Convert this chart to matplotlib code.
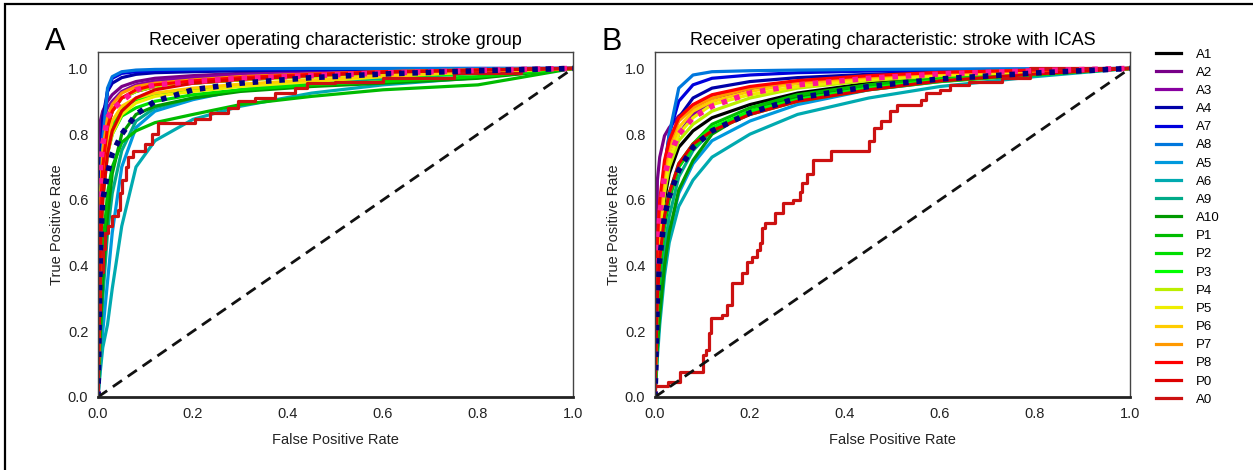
import matplotlib
matplotlib.use("Agg")
import matplotlib.pyplot as plt
from matplotlib.lines import Line2D
from matplotlib.patches import Rectangle
import numpy as np

plt.rcParams['font.family'] = ['Liberation Sans', 'DejaVu Sans']

# ---------------- data ----------------
labels = ["A1", "A2", "A3", "A4", "A7", "A8", "A5", "A6", "A9", "A10",
          "P1", "P2", "P3", "P4", "P5", "P6", "P7", "P8", "P0", "A0"]

colors = ["#000000", "#780088", "#8800a0", "#0000a8", "#0000dd", "#0077dd",
          "#0099dd", "#00aab0", "#00aa88", "#009900", "#00bb00", "#00dd00",
          "#00ff00", "#bbee00", "#eeee00", "#ffcc00", "#ff9900", "#ff0000",
          "#dd0000", "#cc1111"]

fpr_grid = [0, 0.005, 0.01, 0.02, 0.03, 0.05, 0.08, 0.12, 0.2, 0.3, 0.45, 0.6, 0.8, 1.0]

tpr_A = {
    "A1":  [0, .55, .70, .82, .87, .91, .93, .945, .955, .965, .978, .987, .995, 1],
    "A2":  [0, .84, .87, .90, .92, .945, .96, .97, .978, .985, .99, .995, .998, 1],
    "A3":  [0, .78, .84, .88, .90, .93, .95, .962, .972, .98, .988, .994, .998, 1],
    "A4":  [0, .70, .85, .93, .955, .972, .982, .987, .99, .993, .996, .998, .999, 1],
    "A7":  [0, .60, .80, .93, .97, .985, .99, .993, .995, .997, .998, .999, 1, 1],
    "A8":  [0, .55, .78, .94, .975, .99, .995, .997, .998, .999, 1, 1, 1, 1],
    "A5":  [0, .10, .20, .35, .50, .70, .82, .87, .905, .935, .96, .975, .99, 1],
    "A6":  [0, .08, .15, .22, .33, .52, .70, .78, .845, .885, .925, .95, .972, 1],
    "A9":  [0, .15, .30, .50, .62, .75, .84, .88, .91, .935, .955, .97, .985, 1],
    "A10": [0, .20, .35, .55, .68, .80, .86, .885, .91, .93, .945, .955, .97, 1],
    "P1":  [0, .30, .45, .62, .70, .775, .81, .835, .86, .89, .915, .935, .95, 1],
    "P2":  [0, .45, .60, .74, .80, .855, .88, .90, .92, .935, .95, .96, .975, 1],
    "P3":  [0, .50, .65, .77, .83, .88, .905, .92, .935, .95, .962, .975, .985, 1],
    "P4":  [0, .60, .72, .83, .87, .91, .93, .945, .955, .965, .975, .985, .993, 1],
    "P5":  [0, .50, .62, .74, .80, .86, .895, .915, .93, .945, .96, .975, .99, 1],
    "P6":  [0, .55, .68, .79, .84, .885, .91, .925, .94, .952, .965, .977, .99, 1],
    "P7":  [0, .60, .75, .85, .89, .925, .945, .955, .965, .975, .983, .99, .996, 1],
    "P8":  [0, .55, .70, .82, .87, .91, .935, .95, .962, .972, .982, .99, .995, 1],
    "P0":  [0, .45, .60, .74, .81, .87, .91, .935, .955, .967, .978, .988, .995, 1],
}
mean_pink_A = [0, .70, .77, .85, .875, .90, .935, .95, .96, .97, .978, .986, .994, 1]
mean_navy_A = [0, .45, .60, .68, .74, .80, .86, .90, .935, .955, .972, .983, .993, 1]

a0_fpr_A = [0, 0, .005, .01, .015, .021, .029, .042, .046, .05, .058, .063, .074, .099,
            .114, .126, .204, .236, .274, .295, .33, .373, .415, .44, .5, .6, .75, .89, 1.0]
a0_tpr_A = [0, .25, .38, .45, .50, .52, .55, .57, .62, .66, .70, .73, .75, .77,
            .80, .835, .845, .865, .88, .90, .91, .925, .94, .955, .96, .97, .985, 1.0, 1.0]

tpr_B = {
    "A1":  [0, .30, .45, .60, .68, .76, .81, .85, .89, .925, .955, .975, .99, 1],
    "A2":  [0, .66, .73, .795, .82, .855, .885, .915, .94, .96, .975, .985, .993, 1],
    "A3":  [0, .45, .55, .65, .72, .80, .86, .90, .935, .955, .972, .983, .992, 1],
    "A4":  [0, .40, .55, .68, .76, .85, .91, .94, .96, .972, .982, .99, .995, 1],
    "A7":  [0, .35, .50, .70, .80, .90, .95, .97, .98, .987, .992, .996, .998, 1],
    "A8":  [0, .30, .45, .68, .80, .94, .98, .99, .993, .995, .997, .998, .999, 1],
    "A5":  [0, .15, .25, .40, .50, .62, .71, .78, .84, .89, .935, .96, .985, 1],
    "A6":  [0, .12, .22, .37, .47, .58, .66, .73, .80, .86, .91, .945, .975, 1],
    "A9":  [0, .20, .30, .45, .55, .67, .75, .81, .87, .91, .945, .97, .985, 1],
    "A10": [0, .15, .25, .40, .50, .63, .72, .80, .87, .915, .95, .97, .985, 1],
    "P1":  [0, .25, .38, .52, .60, .70, .77, .83, .88, .92, .95, .97, .987, 1],
    "P2":  [0, .30, .42, .55, .62, .70, .76, .81, .86, .90, .935, .96, .98, 1],
    "P3":  [0, .28, .40, .54, .62, .71, .77, .82, .87, .905, .94, .965, .983, 1],
    "P4":  [0, .35, .48, .62, .70, .78, .83, .87, .91, .94, .963, .978, .99, 1],
    "P5":  [0, .38, .50, .64, .72, .80, .85, .89, .92, .945, .967, .98, .99, 1],
    "P6":  [0, .42, .55, .68, .75, .82, .87, .90, .93, .955, .972, .985, .993, 1],
    "P7":  [0, .45, .58, .70, .77, .84, .88, .91, .94, .96, .975, .987, .994, 1],
    "P8":  [0, .48, .60, .72, .78, .85, .89, .92, .945, .963, .978, .988, .995, 1],
    "P0":  [0, .30, .42, .55, .62, .71, .77, .81, .86, .90, .935, .962, .983, 1],
}
mean_pink_B = [0, .45, .55, .67, .73, .80, .85, .885, .925, .95, .97, .983, .993, 1]
mean_navy_B = [0, .30, .42, .55, .61, .69, .76, .81, .865, .91, .945, .968, .986, 1]

a0_fpr_B = [0, 0, .027, .053, .101, .108, .113, .117, .141, .151, .162, .183, .193, .204,
            .215, .221, .225, .232, .253, .27, .29, .305, .31, .32, .333, .37, .45, .462,
            .475, .495, .51, .56, .57, .60, .62, .66, .73, .79, 1.0]
a0_tpr_B = [0, .033, .046, .076, .128, .143, .195, .24, .25, .28, .347, .377, .41, .425,
            .447, .47, .514, .53, .56, .59, .60, .625, .65, .68, .72, .75, .78, .82,
            .84, .87, .89, .905, .925, .935, .95, .96, .97, 1.0, 1.0]

titles = ["Receiver operating characteristic: stroke group",
          "Receiver operating characteristic: stroke with ICAS"]
panel_letters = ["A", "B"]
ticks = [0.0, 0.2, 0.4, 0.6, 0.8, 1.0]

# ---------------- figure ----------------
fig = plt.figure(figsize=(12.53, 4.70), dpi=100)
W, H = 1253, 470

fig.patches.append(Rectangle((5 / W, -0.1), 1.1, (466 / H) + 0.1,
                             transform=fig.transFigure, fill=False,
                             edgecolor="black", linewidth=1.6, zorder=0))

axes_px = [(98, 573), (655, 1130)]
top_px, bot_px = 52, 397

panels = [
    (tpr_A, mean_pink_A, mean_navy_A, a0_fpr_A, a0_tpr_A),
    (tpr_B, mean_pink_B, mean_navy_B, a0_fpr_B, a0_tpr_B),
]

for i, ((x0, x1), (tprs, pink, navy, a0x, a0y)) in enumerate(zip(axes_px, panels)):
    ax = fig.add_axes([x0 / W, 1 - bot_px / H, (x1 - x0) / W, (bot_px - top_px) / H])
    for lab, col in zip(labels[:-1], colors[:-1]):
        ax.plot(fpr_grid, tprs[lab], color=col, lw=2.3, solid_capstyle="butt")
    ax.plot(a0x, a0y, color=colors[-1], lw=2.3, drawstyle="steps-post")
    ax.plot(fpr_grid, pink, color="#ff1493", lw=4, linestyle=(0, (1, 1.4)))
    ax.plot(fpr_grid, navy, color="#000080", lw=4, linestyle=(0, (1, 1.4)))
    ax.plot([0, 1], [0, 1], color="#111111", lw=2, linestyle=(0, (4, 2.5)))

    ax.set_xlim(0, 1.0)
    ax.set_ylim(0, 1.05)
    ax.set_xticks(ticks)
    ax.set_yticks(ticks)
    ax.set_xticklabels([f"{t:.1f}" for t in ticks])
    ax.set_yticklabels([f"{t:.1f}" for t in ticks])
    ax.tick_params(length=0, labelsize=10.5, pad=7, colors="#222222")
    for s in ["left", "top", "right"]:
        ax.spines[s].set_color("#444444")
        ax.spines[s].set_linewidth(1.0)
    ax.spines["bottom"].set_color("#222222")
    ax.spines["bottom"].set_linewidth(2.0)
    ax.set_xlabel("False Positive Rate", fontsize=10.5, color="#222222", labelpad=9)
    ax.set_ylabel("True Positive Rate", fontsize=10.5, color="#222222", labelpad=3)
    ax.set_title(titles[i], fontsize=13, pad=5)
    fig.text((x0 - 53) / W, 1 - 42 / H, panel_letters[i], fontsize=22,
             ha="left", va="center")

handles = [Line2D([0], [0], color=c, lw=2.3) for c in colors]
fig.legend(handles, labels, loc="upper left", bbox_to_anchor=(1151 / W, 1 - 43 / H),
           frameon=False, fontsize=9.5, handlelength=1.9, labelspacing=0.45,
           handletextpad=1.1, borderaxespad=0)

fig.savefig("out.png", dpi=100)
